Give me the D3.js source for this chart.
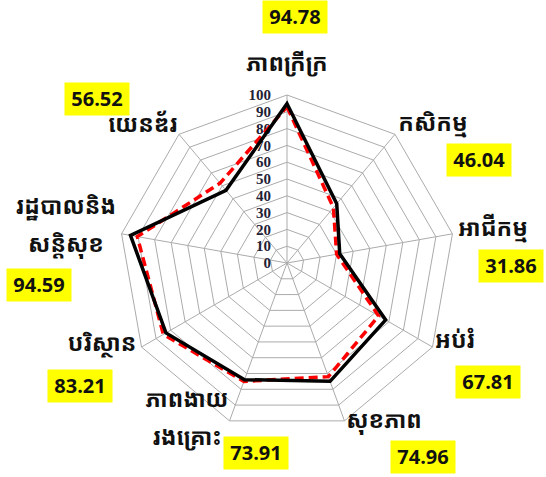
<!DOCTYPE html>
<html>
<head>
<meta charset="utf-8">
<script src="https://cdn.jsdelivr.net/npm/d3@7"></script>
<style>
  body { margin: 0; background: #fff; }
  svg { display: block; }
</style>
</head>
<body>
<svg width="546" height="477"></svg>
<script>
"use strict";

// categories, clockwise from top
const categories = [
  "ភាពក្រីក្រ",
  "កសិកម្ម",
  "អាជីកម្ម",
  "អប់រំ",
  "សុខភាព",
  "ភាពងាយ\nរងគ្រោះ",
  "បរិស្ថាន",
  "រដ្ឋបាលនិង\nសន្តិសុខ",
  "យេនឌ័រ",
];
const valuesMain = [94.78, 46.04, 31.86, 67.81, 74.96, 73.91, 83.21, 94.59, 56.52];
const valuesOther = [93, 43, 30, 63, 72, 75, 85, 90.5, 62];
const tickValues = [0, 10, 20, 30, 40, 50, 60, 70, 80, 90, 100];

// where each category name / value box goes (center x, y)
const labelPos = [
  { lx: 287, ly: 63, bx: 295, by: 17 },
  { lx: 433, ly: 123, bx: 479, by: 160 },
  { lx: 493, ly: 228, bx: 511, by: 266 },
  { lx: 455, ly: 340, bx: 488, by: 382 },
  { lx: 384, ly: 420, bx: 423, by: 457 },
  { lx: 187, ly: 399, bx: 256, by: 453 },
  { lx: 102, ly: 343, bx: 80, by: 386 },
  { lx: 66, ly: 206, bx: 39, by: 285 },
  { lx: 143, ly: 124, bx: 97, by: 99 },
];

const svg = d3.select("svg");
const cx = 287, cy = 263;
const n = categories.length;

const r = d3.scaleLinear().domain([0, 100]).range([0, 168]);
const angle = d3.scaleLinear().domain([0, n]).range([0, 2 * Math.PI]);

const pt = (i, v) => [
  cx + r(v) * Math.sin(angle(i)),
  cy - r(v) * Math.cos(angle(i)),
];

const radar = d3.line().curve(d3.curveLinearClosed);

const g = svg.append("g");

// grid rings
tickValues.slice(1).forEach((t) => {
  g.append("path")
    .attr("d", radar(d3.range(n).map((i) => pt(i, t))))
    .attr("fill", "none")
    .attr("stroke", "#ababab")
    .attr("stroke-width", 1);
});

// spokes
d3.range(n).forEach((i) => {
  const [x, y] = pt(i, 100);
  g.append("line")
    .attr("x1", cx).attr("y1", cy)
    .attr("x2", x).attr("y2", y)
    .attr("stroke", "#ababab")
    .attr("stroke-width", 1);
});

// tick labels
g.selectAll(".tick")
  .data(tickValues)
  .enter()
  .append("text")
  .attr("x", cx - 16)
  .attr("y", (d) => cy - r(d))
  .attr("dy", "0.35em")
  .attr("text-anchor", "end")
  .attr("font-family", "Liberation Serif, serif")
  .attr("font-size", 15)
  .attr("font-weight", "bold")
  .attr("fill", "#1f2235")
  .text((d) => d);

// second series (red dashed)
g.append("path")
  .attr("d", radar(valuesOther.map((v, i) => pt(i, v))))
  .attr("fill", "none")
  .attr("stroke", "#ff0000")
  .attr("stroke-width", 3.5)
  .attr("stroke-dasharray", "9,5");

// main series (black)
g.append("path")
  .attr("d", radar(valuesMain.map((v, i) => pt(i, v))))
  .attr("fill", "none")
  .attr("stroke", "#000")
  .attr("stroke-width", 3.5)
  .attr("stroke-linejoin", "miter");

// category names
const khmerFont = "'Khmer OS', 'Noto Sans Khmer', 'Khmer OS System', sans-serif";
categories.forEach((c, i) => {
  const lines = c.split("\n");
  const t = svg.append("text")
    .attr("text-anchor", "middle")
    .attr("font-family", khmerFont)
    .attr("font-size", 23)
    .attr("font-weight", "bold")
    .attr("fill", "#111");
  lines.forEach((l, k) => {
    t.append("tspan")
      .attr("x", labelPos[i].lx)
      .attr("y", labelPos[i].ly + k * 38)
      .attr("dy", "0.35em")
      .text(l);
  });
});

// value boxes
valuesMain.forEach((v, i) => {
  const bw = 65, bh = 33;
  const p = labelPos[i];
  svg.append("rect")
    .attr("x", p.bx - bw / 2)
    .attr("y", p.by - bh / 2)
    .attr("width", bw)
    .attr("height", bh)
    .attr("fill", "#ffff00");
  svg.append("text")
    .attr("x", p.bx)
    .attr("y", p.by)
    .attr("dy", "0.36em")
    .attr("text-anchor", "middle")
    .attr("font-family", "Open Sans, Liberation Sans, sans-serif")
    .attr("font-size", 20)
    .attr("font-weight", "bold")
    .attr("fill", "#111")
    .text(d3.format(".2f")(v));
});
</script>
</body>
</html>
